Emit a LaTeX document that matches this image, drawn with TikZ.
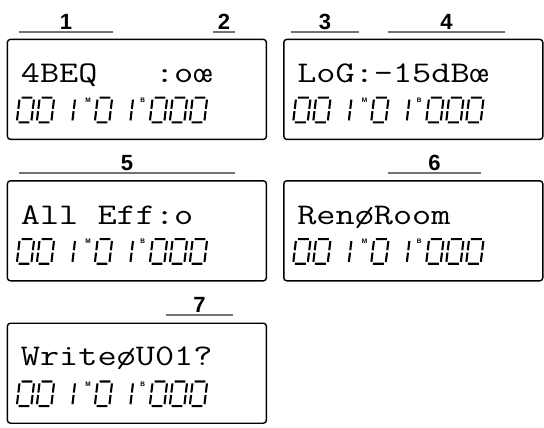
\documentclass[tikz,border=0pt]{standalone}
\usepackage{fontspec}
\newfontfamily\tagfont{Liberation Sans}
\usetikzlibrary{positioning,calc}
\newcommand{\lcdwide}[1]{\scalebox{1.24}[1]{#1}}
% seven-segment counter under each text line
\newcommand{\lcdcount}[1]{%
\begin{scope}[shift={($(#1.north west)+(0,59)$)}]
\foreach \cx/\dg in {13/0,33/0,54/1,91/0,112/1,146/0,166/0,186/0}{
  \draw[seg,shift={(\cx,0)},xslant=0.12] (14.5,1.9)--(14.5,11.1) (14.5,13.5)--(14.5,22.7);
  \ifnum\dg=0
  \draw[seg,shift={(\cx,0)},xslant=0.12] (1.8,0)--(12.7,0) (1.8,24.6)--(12.7,24.6)
    (0,1.9)--(0,11.1) (0,13.5)--(0,22.7);
  \fi
}
\node[flag] (#1m) at (81.5,2.5) {M};
\node[flag] (#1b) at (136,2.5) {B};
\end{scope}}
\tikzset{
panel/.style={draw=black,line width=1.4pt,rounded corners=3pt,minimum width=259pt,minimum height=100pt,inner sep=0pt},
lcdtext/.style={anchor=base west,inner sep=0pt,font=\ttfamily\fontsize{30}{30}\selectfont},
tag/.style={anchor=south,inner xsep=0pt,inner ysep=2pt,text depth=0pt,minimum width=#1,font=\tagfont\bfseries\fontsize{22}{22}\selectfont},
tagline/.style={draw=black!55,line width=1.5pt},
seg/.style={line width=2.1pt},
flag/.style={inner sep=0pt,font=\tagfont\bfseries\fontsize{6.5}{6.5}\selectfont}
}
\begin{document}
\begin{tikzpicture}[x=1pt,y=-1pt]
\useasboundingbox (0,0) rectangle (544,428);
% display panels
\node[panel,anchor=north west] (d1) at (6.7,38.7) {};
\node[panel,right=16pt of d1] (d2) {};
\node[panel,below=40pt of d1] (d3) {};
\node[panel,right=16pt of d3] (d4) {};
\node[panel,below=41pt of d3] (d5) {};
% first line of each panel
\node[lcdtext] (s1) at ($(d1.north west)+(14,44)$) {\lcdwide{4BEQ~~~:oœ}};
\node[lcdtext] (s2) at ($(d2.north west)+(14,44)$) {\lcdwide{LoG:-15dBœ}};
\node[lcdtext] (s3) at ($(d3.north west)+(14,44)$) {\lcdwide{All Eff:o}};
\node[lcdtext] (s4) at ($(d4.north west)+(14,44)$) {\lcdwide{RenøRoom}};
\node[lcdtext] (s5) at ($(d5.north west)+(14,43)$) {\lcdwide{WriteøU01?}};
% second line
\lcdcount{d1}
\lcdcount{d2}
\lcdcount{d3}
\lcdcount{d4}
\lcdcount{d5}
% numbered call-outs
\node[tag=94pt] (n1) at (66,32) {1};
\node[tag=22pt] (n2) at (224,32) {2};
\node[tag=68pt] (n3) at (325,32) {3};
\node[tag=117pt] (n4) at (446.5,32) {4};
\node[tag=216pt] (n5) at (127,173) {5};
\node[tag=93pt] (n6) at (434.5,173) {6};
\node[tag=67pt] (n7) at (199.5,315) {7};
\foreach \n in {n1,n2,n3,n4,n5,n6,n7}
  \draw[tagline] (\n.south west) -- (\n.south east);
\end{tikzpicture}
\end{document}
